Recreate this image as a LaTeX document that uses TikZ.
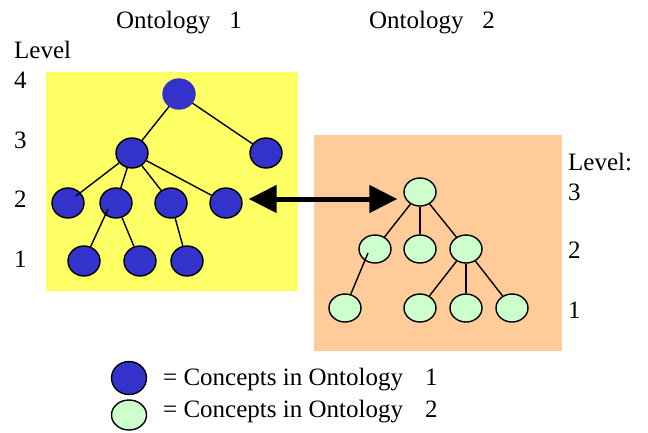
\documentclass[tikz,border=0pt]{standalone}
\usepackage{fontspec}
\setmainfont{Liberation Serif}
\usetikzlibrary{shapes.geometric, arrows.meta}

\definecolor{blau}{HTML}{3333CC}
\definecolor{gruen}{HTML}{CCFFCC}
\definecolor{gelb}{HTML}{FFFF66}
\definecolor{pfirsich}{HTML}{FFCC99}

\begin{document}
\begin{tikzpicture}[x=1pt, y=-1pt,
    konzeptA/.style={ellipse, draw=black, line width=1.4pt, fill=blau, minimum width=32pt, minimum height=30pt, inner sep=0pt},
    konzeptB/.style={ellipse, draw=black, line width=1.4pt, fill=gruen, minimum width=32pt, minimum height=28pt, inner sep=0pt},
    kante/.style={line width=1.4pt},
    txt/.style={font=\fontsize{25}{30}\selectfont, inner sep=0pt, anchor=base west}]
    \useasboundingbox (0,0) rectangle (648,432);

    % Titel
    \node[txt, anchor=base] (titel1) at (179,28) {Ontology~~~1};
    \node[txt, anchor=base] (titel2) at (432,28) {Ontology~~~2};

    % Ontologie 1: Baum auf gelbem Feld
    \fill[gelb] (46,72) rectangle (298,291);
    \node[txt] (lv1) at (14,58) {Level};
    \node[txt] (lv1a) at (14,88) {4};
    \node[txt] (lv1b) at (14,148) {3};
    \node[txt] (lv1c) at (14,207) {2};
    \node[txt] (lv1d) at (14,267) {1};

    \node[konzeptA, draw=blau] (e4) at (179,94) {};
    \node[konzeptA] (e3a) at (132,153) {};
    \node[konzeptA] (e3b) at (266,153) {};
    \node[konzeptA] (e2a) at (68,203) {};
    \node[konzeptA] (e2b) at (116,203) {};
    \node[konzeptA] (e2c) at (171,203) {};
    \node[konzeptA] (e2d) at (226,203) {};
    \node[konzeptA] (e1a) at (84,261) {};
    \node[konzeptA] (e1b) at (140,261) {};
    \node[konzeptA] (e1c) at (187,261) {};

    \draw[kante] (e4) -- (e3a);
    \draw[kante] (e4) -- (e3b);
    \draw[kante] (e3a) -- ([shift={(8pt,7pt)}]e2a.center);
    \draw[kante] (e3a) -- (e2b);
    \draw[kante] (e3a) -- (e2c);
    \draw[kante] (e3a) -- (e2d);
    \draw[kante] ([shift={(-8pt,-6pt)}]e2b.center) -- (e1a);
    \draw[kante] (e2b) -- (e1b);
    \draw[kante] (e2c) -- (e1c);

    % Ontologie 2: Baum auf orangem Feld
    \fill[pfirsich] (314,135) rectangle (562,351);
    \node[txt] (lv2) at (568,170) {Level:};
    \node[txt] (lv2a) at (568,200) {3};
    \node[txt] (lv2b) at (568,258) {2};
    \node[txt] (lv2c) at (568,318) {1};

    \node[konzeptB] (z3) at (420,192) {};
    \node[konzeptB] (z2a) at (375,249) {};
    \node[konzeptB] (z2b) at (420,249) {};
    \node[konzeptB] (z2c) at (466,249) {};
    \node[konzeptB] (z1a) at (345,308) {};
    \node[konzeptB] (z1b) at (420,308) {};
    \node[konzeptB] (z1c) at (466,308) {};
    \node[konzeptB] (z1d) at (512,308) {};

    \draw[kante] (z3) -- (z2a);
    \draw[kante] (z3) -- (z2b);
    \draw[kante] (z3) -- (z2c);
    \draw[kante] ([shift={(-7pt,-4pt)}]z2a.center) -- (z1a);
    \draw[kante] (z2c) -- (z1b);
    \draw[kante] (z2c) -- (z1c);
    \draw[kante] (z2c) -- (z1d);

    % Zuordnung
    \coordinate (pfeilL) at ([yshift=4pt]e2d.east);
    \draw[line width=5pt, {Triangle[length=28pt,width=27pt]}-{Triangle[length=28pt,width=27pt]}, shorten <=6pt, shorten >=6pt]
        (pfeilL) -- (pfeilL -| z3.west);

    % Legende
    \node[konzeptA, minimum width=35pt, minimum height=33pt] (legA) at (129,378) {};
    \node[konzeptB, minimum width=35pt, minimum height=30pt] (legB) at (129,415) {};
    \node[txt] (legtxtA) at (163,385) {= Concepts in Ontology\hspace{22pt}1};
    \node[txt] (legtxtB) at (163,417) {= Concepts in Ontology\hspace{22pt}2};
\end{tikzpicture}
\end{document}
